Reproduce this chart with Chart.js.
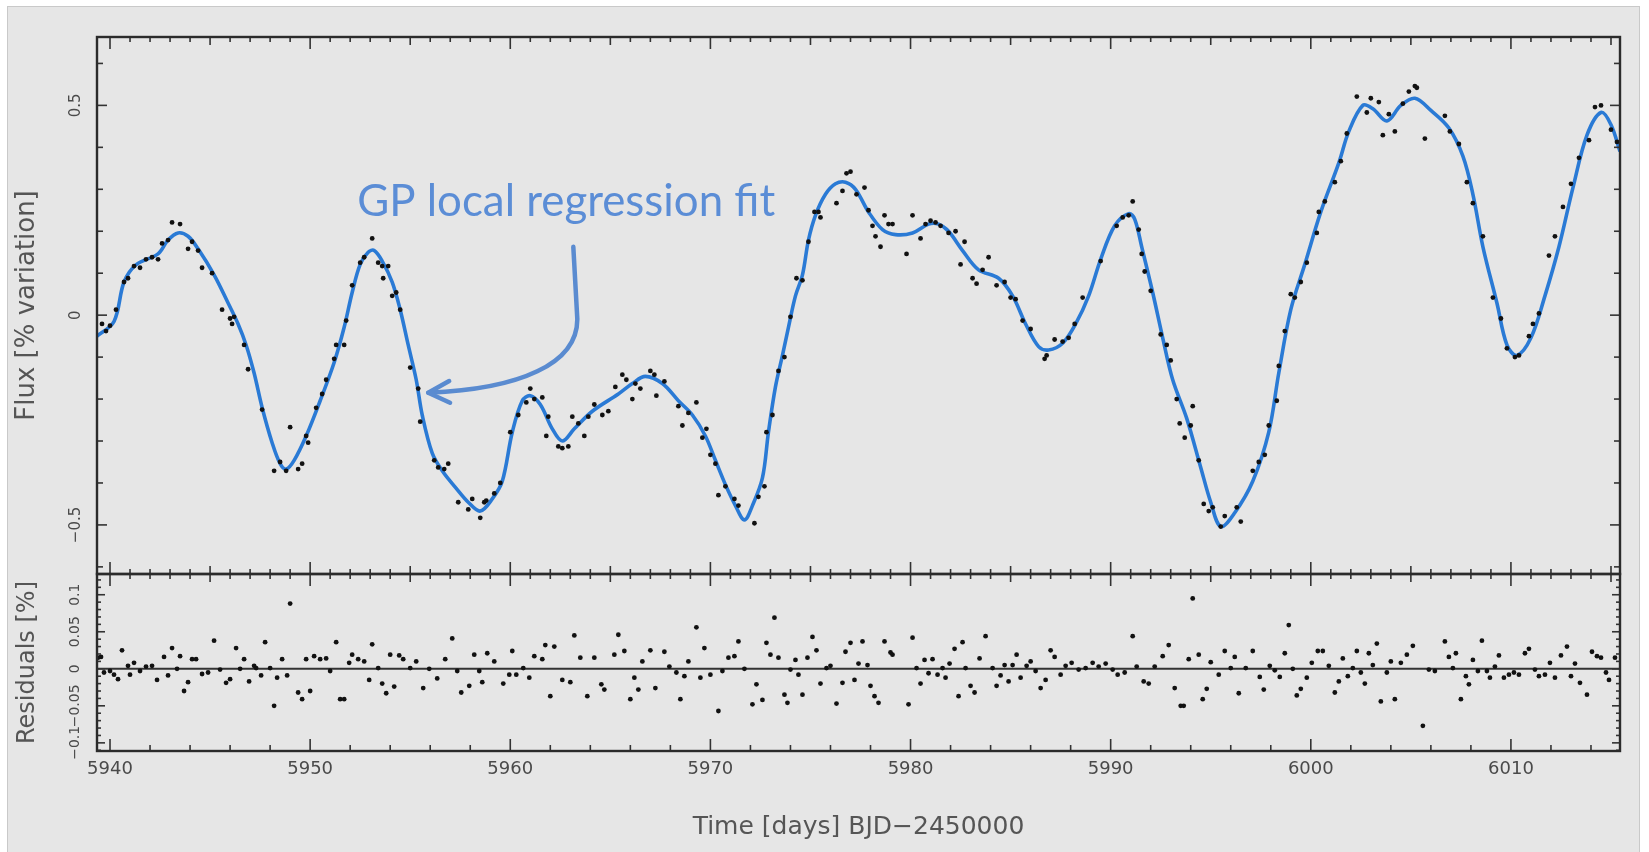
<!DOCTYPE html>
<html><head><meta charset="utf-8">
<script src="https://cdn.jsdelivr.net/npm/chart.js@4.4.1/dist/chart.umd.min.js"></script>
<style>
html,body{margin:0;padding:0;background:#fff;}
#wrap{position:relative;width:1649px;height:852px;overflow:hidden;}
#panel{position:absolute;left:7px;top:6px;width:1633px;height:852px;background:#e6e6e6;border:1px solid #c9c9c9;box-sizing:border-box;}
canvas{position:absolute;left:0;top:0;}
</style></head><body>
<div id="wrap"><div id="panel"></div>
<canvas id="cTop" width="1649" height="852"></canvas>
<canvas id="cBot" width="1649" height="852"></canvas>
</div>
<script>
// ---------- axis ranges & labels ----------
const xMin = 5939.35, xMax = 6015.45;
const fluxMin = -0.617, fluxMax = 0.663;
const resMin = -0.111, resMax = 0.128;
const xTitle = 'Time [days] BJD\u22122450000';
const fluxTitle = 'Flux [% variation]';
const resTitle = 'Residuals [%]';
const noteText = 'GP local regression fit';

// ---------- GP fit curve ----------
const fitT = [5939.35,5940.2,5940.7,5941.3,5942.4,5942.9,5943.4,5943.9,5944.4,5945.2,5945.9,5946.4,5946.8,5947.2,5947.6,5948.1,5948.5,5948.8,5949.2,5949.8,5950.5,5951.2,5951.7,5952.1,5952.5,5952.9,5953.2,5953.6,5954.1,5954.5,5954.9,5955.3,5955.6,5956.1,5956.6,5957.3,5957.9,5958.5,5959.1,5959.6,5960.1,5960.6,5961.0,5961.5,5962.1,5962.6,5963.2,5964.1,5965.4,5966.1,5966.75,5967.6,5968.4,5969.1,5969.75,5970.25,5970.75,5971.25,5971.7,5972.1,5972.6,5972.9,5973.25,5973.6,5973.9,5974.25,5974.6,5974.9,5975.25,5975.75,5976.25,5976.75,5977.25,5977.9,5978.6,5979.25,5980.1,5980.9,5981.4,5981.9,5982.6,5983.4,5984.4,5985.1,5985.75,5986.4,5986.9,5987.6,5988.25,5988.9,5989.5,5990.2,5990.9,5991.2,5991.55,5992.1,5992.6,5993.1,5993.8,5994.5,5995.0,5995.5,5996.2,5997.1,5997.9,5998.4,5999.0,5999.7,6000.5,6001.4,6001.9,6002.6,6003.1,6003.8,6004.5,6005.2,6006.0,6006.9,6007.6,6008.1,6008.6,6009.3,6009.8,6010.3,6011.0,6011.7,6012.4,6013.1,6013.8,6014.5,6015.0,6015.45];
const fitV = [-0.05,-0.015,0.079,0.12,0.146,0.179,0.196,0.188,0.158,0.096,0.029,-0.021,-0.071,-0.138,-0.22,-0.304,-0.354,-0.367,-0.346,-0.288,-0.204,-0.113,-0.029,0.054,0.121,0.15,0.154,0.129,0.079,0.013,-0.071,-0.154,-0.238,-0.329,-0.371,-0.413,-0.446,-0.467,-0.438,-0.396,-0.279,-0.204,-0.192,-0.213,-0.271,-0.3,-0.271,-0.229,-0.188,-0.163,-0.146,-0.163,-0.204,-0.238,-0.288,-0.346,-0.404,-0.454,-0.488,-0.454,-0.388,-0.279,-0.171,-0.096,-0.029,0.046,0.096,0.179,0.238,0.288,0.313,0.317,0.3,0.246,0.204,0.192,0.196,0.217,0.217,0.2,0.154,0.108,0.088,0.046,-0.021,-0.075,-0.083,-0.067,-0.021,0.046,0.133,0.213,0.242,0.229,0.163,0.054,-0.054,-0.154,-0.246,-0.363,-0.446,-0.504,-0.471,-0.396,-0.279,-0.138,0.013,0.121,0.246,0.363,0.438,0.5,0.492,0.463,0.5,0.517,0.488,0.446,0.379,0.288,0.163,0.029,-0.071,-0.096,-0.054,0.046,0.163,0.304,0.429,0.483,0.454,0.39];

// ---------- observed flux ----------
const obsT = [5939.6,5939.8,5940.0,5940.3,5940.7,5940.9,5941.2,5941.5,5941.8,5942.1,5942.4,5942.6,5942.9,5943.1,5943.5,5943.9,5944.1,5944.4,5944.6,5945.1,5945.6,5946.0,5946.1,5946.2,5946.7,5946.9,5947.6,5948.2,5948.5,5948.8,5949.0,5949.4,5949.6,5949.8,5949.9,5950.3,5950.6,5950.8,5951.2,5951.3,5951.7,5951.8,5952.1,5952.5,5952.7,5953.1,5953.4,5953.6,5953.65,5953.9,5954.1,5954.3,5954.5,5955.0,5955.4,5955.5,5956.2,5956.4,5956.7,5956.9,5957.4,5957.9,5958.1,5958.5,5958.7,5958.8,5959.2,5959.5,5960.0,5960.4,5960.8,5961.0,5961.2,5961.6,5961.8,5961.9,5962.4,5962.6,5962.9,5963.1,5963.4,5963.7,5963.9,5964.2,5964.6,5964.9,5965.25,5965.6,5965.8,5966.1,5966.25,5966.5,5967.0,5967.2,5967.3,5967.7,5968.4,5968.6,5968.9,5969.3,5969.6,5969.8,5970.0,5970.25,5970.4,5970.75,5971.2,5971.4,5972.2,5972.4,5972.7,5972.8,5973.1,5973.4,5973.7,5974.0,5974.3,5974.6,5974.9,5975.2,5975.4,5975.5,5976.3,5976.6,5976.8,5977.0,5977.3,5977.7,5977.9,5978.1,5978.25,5978.5,5978.7,5978.9,5979.1,5979.8,5980.1,5980.5,5980.75,5981.0,5981.25,5981.5,5981.9,5982.25,5982.5,5982.7,5983.1,5983.3,5983.6,5983.9,5984.3,5984.7,5985.0,5985.25,5985.6,5986.0,5986.7,5986.8,5987.2,5987.6,5987.9,5988.2,5988.6,5989.5,5990.3,5990.6,5990.9,5991.1,5991.4,5991.55,5991.7,5992.0,5992.5,5992.8,5993.0,5993.3,5993.45,5993.7,5994.0,5994.1,5994.4,5994.65,5994.9,5995.1,5995.5,5995.7,5996.3,5996.5,5997.1,5997.4,5997.7,5997.9,5998.3,5998.4,5998.7,5999.0,5999.2,5999.5,5999.8,6000.3,6000.4,6000.7,6001.2,6001.5,6001.8,6002.3,6002.8,6003.0,6003.4,6003.6,6003.9,6004.2,6004.6,6004.9,6005.2,6005.3,6005.7,6006.7,6006.95,6007.4,6007.8,6008.1,6008.6,6009.1,6009.5,6009.8,6010.2,6010.4,6010.9,6011.1,6011.4,6011.9,6012.2,6012.6,6013.0,6013.4,6013.9,6014.2,6014.5,6015.0,6015.3];
const obsV = [-0.021,-0.038,-0.025,0.013,0.079,0.088,0.117,0.113,0.133,0.138,0.133,0.171,0.179,0.221,0.217,0.158,0.175,0.154,0.113,0.1,0.013,-0.008,-0.021,-0.004,-0.071,-0.129,-0.225,-0.371,-0.35,-0.371,-0.267,-0.367,-0.354,-0.288,-0.304,-0.221,-0.188,-0.154,-0.104,-0.071,-0.071,-0.013,0.071,0.125,0.138,0.183,0.125,0.117,0.088,0.117,0.046,0.054,0.013,-0.125,-0.175,-0.254,-0.346,-0.363,-0.367,-0.354,-0.446,-0.463,-0.438,-0.483,-0.446,-0.442,-0.425,-0.4,-0.279,-0.238,-0.208,-0.175,-0.2,-0.196,-0.288,-0.242,-0.313,-0.317,-0.313,-0.242,-0.258,-0.288,-0.242,-0.213,-0.238,-0.229,-0.171,-0.142,-0.154,-0.2,-0.163,-0.175,-0.133,-0.142,-0.192,-0.158,-0.217,-0.263,-0.233,-0.208,-0.292,-0.271,-0.333,-0.354,-0.429,-0.408,-0.438,-0.454,-0.496,-0.433,-0.408,-0.279,-0.238,-0.133,-0.1,-0.004,0.088,0.083,0.175,0.246,0.246,0.233,0.267,0.296,0.338,0.342,0.288,0.304,0.25,0.213,0.188,0.163,0.238,0.217,0.217,0.146,0.238,0.183,0.217,0.225,0.221,0.213,0.196,0.2,0.121,0.175,0.088,0.075,0.108,0.138,0.071,0.079,0.042,0.038,-0.013,-0.033,-0.104,-0.096,-0.058,-0.063,-0.054,-0.021,0.042,0.129,0.213,0.233,0.238,0.271,0.204,0.146,0.104,0.058,-0.046,-0.071,-0.108,-0.2,-0.258,-0.292,-0.263,-0.217,-0.346,-0.45,-0.467,-0.458,-0.504,-0.479,-0.458,-0.492,-0.371,-0.35,-0.333,-0.263,-0.204,-0.121,-0.038,0.05,0.042,0.079,0.125,0.196,0.246,0.271,0.317,0.367,0.433,0.521,0.483,0.517,0.508,0.429,0.479,0.438,0.504,0.533,0.546,0.542,0.421,0.475,0.438,0.408,0.317,0.267,0.188,0.042,-0.008,-0.079,-0.1,-0.096,-0.05,-0.021,0.004,0.142,0.188,0.258,0.313,0.375,0.417,0.496,0.5,0.442,0.413];

// ---------- residuals ----------
const resT = [5939.4,5939.55,5939.7,5940.0,5940.2,5940.4,5940.6,5940.9,5941.0,5941.2,5941.5,5941.8,5942.1,5942.35,5942.7,5942.9,5943.1,5943.35,5943.5,5943.7,5943.9,5944.1,5944.3,5944.6,5944.9,5945.2,5945.5,5945.8,5946.0,5946.3,5946.5,5946.7,5946.95,5947.2,5947.3,5947.55,5947.75,5948.0,5948.2,5948.35,5948.6,5948.85,5949.0,5949.4,5949.6,5949.8,5950.0,5950.2,5950.5,5950.8,5951.0,5951.3,5951.5,5951.7,5951.95,5952.1,5952.4,5952.7,5952.95,5953.1,5953.4,5953.6,5953.8,5954.0,5954.2,5954.45,5954.65,5955.0,5955.3,5955.65,5955.95,5956.35,5956.75,5957.1,5957.35,5957.55,5957.95,5958.2,5958.45,5958.6,5958.85,5959.2,5959.65,5959.95,5960.1,5960.3,5960.65,5960.95,5961.2,5961.6,5961.75,5962.0,5962.2,5962.6,5963.0,5963.2,5963.5,5963.85,5964.2,5964.55,5964.7,5965.2,5965.4,5965.7,5966.0,5966.2,5966.4,5966.6,5967.0,5967.25,5967.7,5967.95,5968.3,5968.5,5968.7,5968.9,5969.3,5969.5,5969.7,5970.0,5970.4,5970.6,5970.9,5971.2,5971.4,5971.7,5972.1,5972.3,5972.6,5972.8,5973.0,5973.2,5973.4,5973.7,5973.85,5974.0,5974.25,5974.4,5974.6,5974.85,5975.1,5975.3,5975.5,5975.8,5976.0,5976.3,5976.6,5976.75,5977.0,5977.2,5977.4,5977.6,5977.85,5978.0,5978.2,5978.4,5978.7,5979.0,5979.1,5979.9,5980.1,5980.3,5980.5,5980.7,5980.9,5981.1,5981.35,5981.6,5981.75,5981.95,5982.2,5982.4,5982.6,5982.75,5983.0,5983.2,5983.45,5983.75,5984.1,5984.3,5984.5,5984.7,5984.9,5985.1,5985.3,5985.5,5985.8,5986.0,5986.25,5986.5,5986.75,5987.0,5987.2,5987.5,5987.75,5988.05,5988.4,5988.75,5989.1,5989.4,5989.75,5990.1,5990.35,5990.7,5991.1,5991.3,5991.65,5991.9,5992.2,5992.6,5992.9,5993.2,5993.5,5993.65,5993.9,5994.1,5994.4,5994.6,5994.8,5995.0,5995.4,5995.7,5996.0,5996.2,5996.4,5996.75,5997.1,5997.45,5997.65,5997.95,5998.2,5998.45,5998.7,5998.9,5999.1,5999.3,5999.5,5999.8,6000.05,6000.35,6000.6,6000.9,6001.2,6001.4,6001.6,6001.85,6002.1,6002.3,6002.5,6002.7,6002.9,6003.1,6003.3,6003.5,6003.8,6004.0,6004.2,6004.5,6004.8,6005.1,6005.6,6005.9,6006.2,6006.7,6006.9,6007.1,6007.25,6007.5,6007.75,6007.9,6008.1,6008.35,6008.55,6008.8,6008.95,6009.2,6009.4,6009.65,6009.9,6010.15,6010.4,6010.7,6010.9,6011.2,6011.4,6011.7,6011.95,6012.2,6012.5,6012.8,6013.0,6013.2,6013.45,6013.8,6014.05,6014.3,6014.5,6014.75,6014.9,6015.2];
const resV = [0.015,0.016,-0.005,-0.003,-0.008,-0.014,0.025,0.004,-0.008,0.008,-0.003,0.003,0.004,-0.015,0.016,-0.009,0.028,0.0,0.017,-0.03,-0.018,0.013,0.013,-0.007,-0.005,0.038,-0.001,-0.019,-0.014,0.028,0.0,0.013,-0.017,0.004,0.001,-0.009,0.036,0.001,-0.05,-0.012,0.013,-0.009,0.088,-0.032,-0.041,0.013,-0.03,0.017,0.013,0.014,-0.003,0.036,-0.041,-0.041,0.008,0.019,0.013,0.01,-0.015,0.033,0.001,-0.02,-0.033,0.019,-0.024,0.018,0.013,0.001,0.01,-0.026,0.0,-0.013,0.013,0.041,-0.003,-0.032,-0.023,0.019,-0.003,-0.018,0.021,0.01,-0.02,-0.008,0.024,-0.008,0.001,-0.012,0.017,0.013,0.032,-0.037,0.03,-0.015,-0.018,0.045,0.015,-0.037,0.015,-0.021,-0.028,0.019,0.046,0.024,-0.041,-0.012,-0.028,0.01,0.025,-0.026,0.023,0.003,-0.005,-0.041,-0.01,0.01,0.056,-0.012,0.028,-0.008,-0.057,-0.003,0.015,0.017,0.037,0.0,-0.048,-0.021,-0.042,0.035,0.019,0.069,0.015,-0.035,-0.046,-0.001,0.012,-0.008,-0.035,0.015,0.043,0.025,-0.02,0.001,0.004,-0.047,-0.019,0.023,0.035,-0.015,0.007,0.037,0.005,-0.023,-0.037,-0.046,0.037,0.022,0.019,-0.048,0.042,0.001,-0.02,0.012,-0.006,0.013,-0.008,0.001,-0.012,0.007,0.027,-0.037,0.036,0.001,-0.023,-0.032,0.014,0.044,0.001,-0.023,-0.009,0.005,-0.017,0.005,0.019,-0.012,0.004,0.01,-0.003,-0.026,-0.015,0.025,0.016,-0.008,0.004,0.008,-0.001,0.001,0.008,0.003,0.007,-0.001,-0.008,-0.005,0.044,0.003,-0.017,-0.02,0.003,0.017,0.032,-0.026,-0.05,-0.05,0.013,0.095,0.019,-0.041,-0.027,0.009,-0.008,0.024,0.001,0.016,-0.033,0.001,0.024,-0.011,-0.028,0.004,-0.002,-0.011,0.021,0.059,0.0,-0.036,-0.027,-0.012,0.008,0.024,0.024,0.004,-0.032,-0.017,0.014,-0.01,0.001,0.024,-0.005,-0.02,0.021,0.005,0.034,-0.044,-0.005,0.01,-0.041,0.008,0.019,0.031,-0.077,-0.001,-0.003,0.037,0.016,0.001,0.021,-0.041,-0.01,-0.021,0.012,-0.003,0.038,-0.003,-0.012,0.003,0.018,-0.012,-0.008,-0.005,-0.008,0.021,0.027,-0.001,-0.01,-0.008,0.008,-0.012,0.018,0.03,-0.01,0.007,-0.019,-0.035,0.023,0.017,0.015,-0.005,-0.015,0.015];

// ---------- annotation path (data units) ----------
const noteAnchor = [5952.35, 0.2375];           // left end of text baseline
const arrowPts = [[5963.15, 0.163],[5963.35, -0.0095],[5963.35, -0.116],[5960.5, -0.176],[5955.9, -0.185]];

// ---------- helpers ----------
const zip = (a, b) => a.map((v, i) => ({x: v, y: b[i]}));
const fmt = v => { const r = Math.round(v * 1000) / 1000; return (r < 0 ? '\u2212' : '') + String(Math.abs(r)); };
const TICK_COL = '#4a4a4a', TITLE_COL = '#555';

function frameTicks(cfg) {
  return {
    id: 'frame',
    afterDatasetsDraw(chart) {
      const {ctx, chartArea: a, scales: {x, y}} = chart;
      ctx.save();
      ctx.strokeStyle = '#333';
      ctx.lineWidth = 1.6;
      const seg = (x1, y1, x2, y2) => { ctx.beginPath(); ctx.moveTo(x1, y1); ctx.lineTo(x2, y2); ctx.stroke(); };
      for (const e of cfg.xEdges) {
        const i0 = Math.ceil(x.min / e.step - 1e-9), i1 = Math.floor(x.max / e.step + 1e-9);
        for (let i = i0; i <= i1; i++) {
          const v = i * e.step, px = x.getPixelForValue(v);
          let L = e.len[0];
          if (Math.abs(v / 10 - Math.round(v / 10)) < 1e-6) L = e.len[2];
          else if (Math.abs(v / 5 - Math.round(v / 5)) < 1e-6) L = e.len[1];
          if (e.side === 'top') seg(px, a.top, px, a.top + L); else seg(px, a.bottom, px, a.bottom - L);
        }
      }
      const ys = cfg.y;
      const j0 = Math.ceil(y.min / ys.step - 1e-9), j1 = Math.floor(y.max / ys.step + 1e-9);
      for (let j = j0; j <= j1; j++) {
        const py = y.getPixelForValue(j * ys.step);
        const L = (j % ys.every === 0) ? ys.len[1] : ys.len[0];
        seg(a.left, py, a.left + L, py);
        seg(a.right, py, a.right - L, py);
      }
      ctx.strokeStyle = '#2b2b2b';
      ctx.lineWidth = 2.4;
      ctx.strokeRect(a.left, a.top, a.right - a.left, a.bottom - a.top);
      ctx.restore();
    }
  };
}

const annotation = {
  id: 'note',
  afterDatasetsDraw(chart) {
    const {ctx, scales: {x, y}} = chart;
    const P = p => [x.getPixelForValue(p[0]), y.getPixelForValue(p[1])];
    ctx.save();
    ctx.font = '44px Lato';
    const w = ctx.measureText(noteText).width;
    const [tx, ty] = P(noteAnchor);
    ctx.translate(tx, ty);
    ctx.scale(418 / w, 1);
    ctx.fillStyle = '#5b8dd6';
    ctx.textBaseline = 'alphabetic';
    ctx.textAlign = 'left';
    ctx.fillText(noteText, 0, 0);
    ctx.restore();

    const pts = arrowPts.map(P);
    ctx.save();
    ctx.strokeStyle = '#5a8bd0';
    ctx.lineWidth = 4.5;
    ctx.lineCap = 'round';
    ctx.lineJoin = 'round';
    ctx.beginPath();
    ctx.moveTo(pts[0][0], pts[0][1]);
    ctx.lineTo(pts[1][0], pts[1][1]);
    ctx.bezierCurveTo(pts[2][0], pts[2][1], pts[3][0], pts[3][1], pts[4][0], pts[4][1]);
    ctx.stroke();
    const tip = pts[4], from = pts[3];
    const ang = Math.atan2(tip[1] - from[1], tip[0] - from[0]);
    const hl = 24, ha = 0.47;
    ctx.beginPath();
    ctx.moveTo(tip[0] - hl * Math.cos(ang - ha), tip[1] - hl * Math.sin(ang - ha));
    ctx.lineTo(tip[0], tip[1]);
    ctx.lineTo(tip[0] - hl * Math.cos(ang + ha), tip[1] - hl * Math.sin(ang + ha));
    ctx.stroke();
    ctx.restore();
  }
};

// ---------- upper chart: flux ----------
new Chart(document.getElementById('cTop'), {
  type: 'scatter',
  data: {
    datasets: [
      {type: 'line', label: 'GP fit', data: zip(fitT, fitV), borderColor: '#2a7ad5', borderWidth: 3.6,
       pointRadius: 0, tension: 0.35, fill: false, order: 2},
      {type: 'scatter', label: 'Flux', data: zip(obsT, obsV), backgroundColor: '#111', borderColor: '#111',
       borderWidth: 0, pointRadius: 2.4, order: 1}
    ]
  },
  options: {
    responsive: false, animation: false, devicePixelRatio: 1,
    layout: {padding: {top: 37, right: 29, bottom: 278, left: 0}},
    plugins: {legend: {display: false}, tooltip: {enabled: false}},
    scales: {
      x: {type: 'linear', min: xMin, max: xMax, display: false},
      y: {
        type: 'linear', min: fluxMin, max: fluxMax,
        afterFit: s => { s.width = 97; },
        grid: {display: false, drawTicks: false}, border: {display: false},
        ticks: {stepSize: 0.5, includeBounds: false, minRotation: 90, maxRotation: 90, crossAlign: 'center',
                padding: 3, color: TICK_COL, font: {family: 'DejaVu Sans', size: 15}, callback: v => fmt(v)},
        title: {display: true, text: fluxTitle, color: TITLE_COL, font: {family: 'DejaVu Sans', size: 26},
                padding: {top: 12, bottom: 0}}
      }
    }
  },
  plugins: [frameTicks({
    xEdges: [{side: 'top', step: 1, len: [5, 8, 12]}, {side: 'bottom', step: 1, len: [5, 8, 12]}],
    y: {step: 0.1, every: 5, len: [6, 10]}
  }), annotation]
});

// ---------- lower chart: residuals ----------
new Chart(document.getElementById('cBot'), {
  type: 'scatter',
  data: {
    datasets: [
      {type: 'line', label: 'zero', data: [{x: xMin, y: 0}, {x: xMax, y: 0}], borderColor: '#333',
       borderWidth: 2, pointRadius: 0, order: 2},
      {type: 'scatter', label: 'Residuals', data: zip(resT, resV), backgroundColor: '#111', borderColor: '#111',
       borderWidth: 0, pointRadius: 2.4, order: 1}
    ]
  },
  options: {
    responsive: false, animation: false, devicePixelRatio: 1,
    layout: {padding: {top: 574, right: 29, bottom: 0, left: 0}},
    plugins: {legend: {display: false}, tooltip: {enabled: false}},
    scales: {
      x: {
        type: 'linear', min: xMin, max: xMax, position: 'bottom',
        afterFit: s => { s.height = 101; },
        grid: {display: false, drawTicks: false}, border: {display: false},
        ticks: {stepSize: 10, includeBounds: false, maxRotation: 0, autoSkip: false, padding: 8,
                color: TICK_COL, font: {family: 'DejaVu Sans', size: 18}, callback: v => String(v)},
        title: {display: true, text: xTitle, color: TITLE_COL, font: {family: 'DejaVu Sans', size: 25},
                padding: {top: 0, bottom: 10}}
      },
      y: {
        type: 'linear', min: resMin, max: resMax,
        afterFit: s => { s.width = 97; },
        grid: {display: false, drawTicks: false}, border: {display: false},
        ticks: {stepSize: 0.05, includeBounds: false, autoSkip: false, minRotation: 90, maxRotation: 90, crossAlign: 'center',
                padding: 0, color: TICK_COL, font: {family: 'DejaVu Sans', size: 14}, callback: v => fmt(v)},
        title: {display: true, text: resTitle, color: TITLE_COL, font: {family: 'DejaVu Sans', size: 24},
                padding: {top: 13, bottom: 0}}
      }
    }
  },
  plugins: [frameTicks({
    xEdges: [{side: 'top', step: 1, len: [5, 8, 12]}, {side: 'bottom', step: 2, len: [6, 6, 12]}],
    y: {step: 0.01, every: 5, len: [4, 8]}
  })]
});
</script>
</body></html>
